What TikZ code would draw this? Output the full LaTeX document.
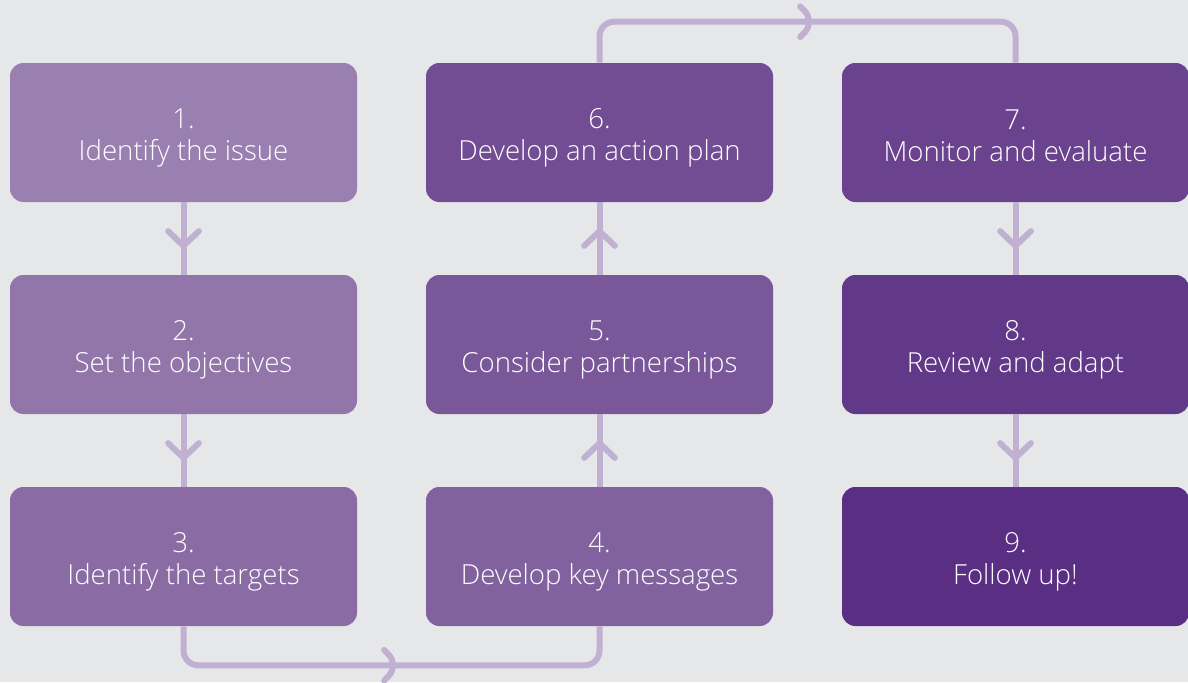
\documentclass[tikz,border=0pt]{standalone}
\usepackage{fontspec}
\setmainfont{Open Sans}[UprightFont={* Light}]
\usetikzlibrary{decorations.markings}
\definecolor{bg}{HTML}{E6E7E9}
\definecolor{conncol}{HTML}{C0B0D2}
\definecolor{cA}{HTML}{9A80B0}
\definecolor{cZ}{HTML}{5A2E82}
\colorlet{c1}{cA}
\colorlet{c2}{cA!87.5!cZ}
\colorlet{c3}{cA!75!cZ}
\colorlet{c4}{cA!62.5!cZ}
\colorlet{c5}{cA!50!cZ}
\colorlet{c6}{cA!37.5!cZ}
\colorlet{c7}{cA!25!cZ}
\colorlet{c8}{cA!12.5!cZ}
\colorlet{c9}{cZ}
\newcommand{\topstrut}{\rule{0pt}{23pt}}
\newcommand{\botstrut}{\rule[-4.25pt]{0pt}{4.25pt}}
\tikzset{
  stepbox/.style={rectangle, rounded corners=10pt, minimum width=260.25pt,
    minimum height=104.25pt, inner sep=0pt, align=center, text=white,
    font=\fontsize{20.7}{24}\selectfont},
  connline/.style={draw=conncol, line width=4.5pt,
    postaction={decorate, decoration={markings, mark=at position 0.5 with {
      \draw[conncol, line width=4.5pt, line cap=round, line join=round]
        (-5.5pt,11.5pt) -- (5.5pt,0pt) -- (-5.5pt,-11.5pt);}}}}
}
\begin{document}
\begin{tikzpicture}[x=0.75pt,y=-0.75pt]
\fill[bg] (0,0) rectangle (1188,682);
\useasboundingbox (0,0) rectangle (1188,682);
\node[stepbox, fill=c1] (b1) at (183.5,132.5) {\topstrut 1.\\Identify the issue\botstrut};
\node[stepbox, fill=c2] (b2) at (183.5,344.5) {\topstrut 2.\\Set the objectives\botstrut};
\node[stepbox, fill=c3] (b3) at (183.5,556.5) {\topstrut 3.\\Identify the targets\botstrut};
\node[stepbox, fill=c4] (b4) at (599.5,556.5) {\topstrut 4.\\Develop key messages\botstrut};
\node[stepbox, fill=c5] (b5) at (599.5,344.5) {\topstrut 5.\\Consider partnerships\botstrut};
\node[stepbox, fill=c6] (b6) at (599.5,132.5) {\topstrut 6.\\Develop an action plan\botstrut};
\node[stepbox, fill=c7] (b7) at (1015.5,132.5) {\topstrut 7.\\Monitor and evaluate\botstrut};
\node[stepbox, fill=c8] (b8) at (1015.5,344.5) {\topstrut 8.\\Review and adapt\botstrut};
\node[stepbox, fill=c9] (b9) at (1015.5,556.5) {\topstrut 9.\\Follow up!\botstrut};
\path[connline] (b1) -- (b2);
\path[connline] (b2) -- (b3);
\path[connline, rounded corners=11pt] (b3.south) -- ++(0,39) -| (b4.south);
\path[connline] (b4) -- (b5);
\path[connline] (b5) -- (b6);
\path[connline, rounded corners=11pt] (b6.north) -- ++(0,-41) -| (b7.north);
\path[connline] (b7) -- (b8);
\path[connline] (b8) -- (b9);
\end{tikzpicture}
\end{document}
